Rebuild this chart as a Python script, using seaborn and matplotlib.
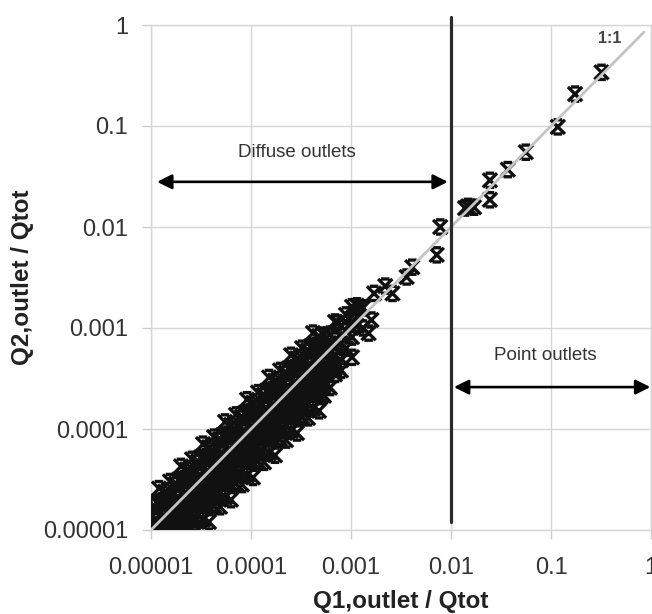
import numpy as np
import pandas as pd
import seaborn as sns
import matplotlib
matplotlib.use("Agg")
import matplotlib.pyplot as plt
from matplotlib.path import Path

# ---------------- data (log10 values) ----------------
dense_log_q1 = [
    -5.03]*6 + [-4.97]*6 + [-4.92]*6 + [-4.86]*6 + [-4.81]*6 + [-4.75]*6 + \
    [-4.70]*6 + [-4.64]*6 + [-4.59]*6 + [-4.53]*6 + [-4.48]*6 + [-4.42]*6 + \
    [-4.37]*6 + [-4.31]*6 + [-4.26]*6 + [-4.20]*6 + [-4.15]*6 + [-4.09]*6 + \
    [-4.04]*6 + [-3.98]*6 + [-3.93]*6 + [-3.87]*6 + [-3.82]*6 + [-3.76]*6 + \
    [-3.71]*6 + [-3.65]*6 + [-3.60]*6 + [-3.54]*6 + [-3.49]*6 + [-3.43]*6 + \
    [-3.38]*6 + [-3.32]*6 + [-3.27]*5 + [-3.21]*4 + [-3.16]*4 + [-3.10]*4 + \
    [-3.05]*3 + [-2.99]*4 + [-2.94]*2 + [-2.88]*2

dense_log_q2 = [
    -4.74, -4.90, -5.02, -5.14, -5.27, -5.42,
    -4.76, -4.91, -5.03, -5.14, -5.28, -5.43,
    -4.59, -4.75, -4.95, -5.06, -5.19, -5.34,
    -4.62, -4.77, -4.94, -5.06, -5.21, -5.36,
    -4.52, -4.68, -4.80, -4.92, -5.05, -5.20,
    -4.54, -4.69, -4.81, -4.92, -5.06, -5.21,
    -4.37, -4.53, -4.73, -4.84, -4.97, -5.12,
    -4.40, -4.55, -4.72, -4.84, -4.99, -5.14,
    -4.30, -4.46, -4.58, -4.70, -4.83, -4.98,
    -4.32, -4.47, -4.59, -4.70, -4.84, -4.99,
    -4.15, -4.31, -4.51, -4.62, -4.75, -4.90,
    -4.18, -4.33, -4.50, -4.62, -4.77, -4.92,
    -4.08, -4.24, -4.36, -4.48, -4.61, -4.76,
    -4.10, -4.25, -4.37, -4.48, -4.62, -4.77,
    -3.93, -4.09, -4.29, -4.40, -4.53, -4.68,
    -3.96, -4.11, -4.28, -4.40, -4.55, -4.70,
    -3.86, -4.02, -4.14, -4.26, -4.39, -4.54,
    -3.88, -4.03, -4.15, -4.26, -4.40, -4.55,
    -3.71, -3.87, -4.07, -4.18, -4.31, -4.46,
    -3.74, -3.89, -4.06, -4.18, -4.33, -4.48,
    -3.64, -3.80, -3.92, -4.04, -4.17, -4.32,
    -3.66, -3.81, -3.93, -4.04, -4.18, -4.33,
    -3.49, -3.65, -3.85, -3.96, -4.09, -4.24,
    -3.52, -3.67, -3.84, -3.96, -4.11, -4.26,
    -3.42, -3.58, -3.70, -3.82, -3.95, -4.10,
    -3.44, -3.59, -3.71, -3.82, -3.96, -4.11,
    -3.27, -3.43, -3.63, -3.74, -3.87, -4.02,
    -3.30, -3.45, -3.62, -3.74, -3.89, -4.04,
    -3.20, -3.36, -3.48, -3.60, -3.73, -3.88,
    -3.22, -3.37, -3.49, -3.60, -3.74, -3.89,
    -3.05, -3.21, -3.41, -3.52, -3.65, -3.80,
    -3.08, -3.23, -3.40, -3.52, -3.67, -3.82,
    -3.07, -3.22, -3.37, -3.52, -3.67,
    -3.06, -3.23, -3.39, -3.59,
    -2.94, -3.12, -3.28, -3.46,
    -2.98, -3.15, -3.32, -3.42,
    -2.87, -3.03, -3.20,
    -2.79, -2.94, -3.09, -3.29,
    -2.78, -2.98,
    -2.80, -3.00,
]

fill_log_q1 = [-5.00]*3 + [-4.89]*3 + [-4.78]*3 + [-4.67]*3 + [-4.56]*3 + \
    [-4.45]*3 + [-4.34]*3 + [-4.23]*3 + [-4.12]*3 + [-4.01]*3 + [-3.90]*3 + \
    [-3.79]*3 + [-3.68]*3 + [-3.57]*3 + [-3.46]*3 + [-3.35]*3 + [-3.24]*3 + \
    [-3.13]*3 + \
    [-4.94]*3 + [-4.83]*3 + [-4.72]*3 + [-4.61]*3 + [-4.50]*3 + [-4.39]*3 + \
    [-4.28]*3 + [-4.17]*3 + [-4.06]*3 + [-3.95]*3 + [-3.84]*3 + [-3.73]*3 + \
    [-3.62]*3 + [-3.51]*3 + [-3.40]*3 + [-3.29]*3
fill_log_q2 = [
    -4.94, -5.18, -5.32,  -4.71, -4.99, -5.15,  -4.72, -4.96, -5.10,
    -4.49, -4.77, -4.93,  -4.50, -4.74, -4.88,  -4.27, -4.55, -4.71,
    -4.28, -4.52, -4.66,  -4.05, -4.33, -4.49,  -4.06, -4.30, -4.44,
    -3.83, -4.11, -4.27,  -3.84, -4.08, -4.22,  -3.61, -3.89, -4.05,
    -3.62, -3.86, -4.00,  -3.39, -3.67, -3.83,  -3.40, -3.64, -3.78,
    -3.17, -3.45, -3.61,  -3.18, -3.42, -3.56,  -2.95, -3.23, -3.39,
    -4.72, -4.98, -5.16,  -4.73, -4.97, -5.19,  -4.50, -4.76, -4.94,
    -4.51, -4.75, -4.97,  -4.28, -4.54, -4.72,  -4.29, -4.53, -4.75,
    -4.06, -4.32, -4.50,  -4.07, -4.31, -4.53,  -3.84, -4.10, -4.28,
    -3.85, -4.09, -4.31,  -3.62, -3.88, -4.06,  -3.63, -3.87, -4.09,
    -3.40, -3.66, -3.84,  -3.41, -3.65, -3.87,  -3.18, -3.44, -3.62,
    -3.19, -3.43, -3.65,
]

sparse_q1 = [0.0015, 0.0016, 0.0012, 0.0011, 0.0017, 0.0022, 0.0026, 0.0036,
             0.0041, 0.0072, 0.0078, 0.0138, 0.0148, 0.017, 0.0245, 0.0245,
             0.037, 0.056, 0.117, 0.174, 0.32]
sparse_q2 = [0.00089, 0.0012, 0.0016, 0.0014, 0.0022, 0.0026, 0.0022, 0.0032,
             0.004, 0.0053, 0.01, 0.0154, 0.016, 0.0157, 0.029, 0.0186,
             0.037, 0.055, 0.098, 0.207, 0.34]

tick_values = [0.00001, 0.0001, 0.001, 0.01, 0.1, 1]
tick_labels = ["0.00001", "0.0001", "0.001", "0.01", "0.1", "1"]

one_to_one = [0.00001, 0.85]
split_value = 0.01

# ---------------- build frame ----------------
q1 = [10 ** v for v in dense_log_q1 + fill_log_q1] + sparse_q1
q2 = [10 ** v for v in dense_log_q2 + fill_log_q2] + sparse_q2
df = pd.DataFrame({"q1": q1, "q2": q2})

sns.set_theme(style="white")
plt.rcParams["font.family"] = ["Liberation Sans", "DejaVu Sans"]

fig = plt.figure(figsize=(6.52, 6.14), dpi=100)
ax = fig.add_axes([151 / 652, 84 / 614, 500 / 652, 505 / 614])

# hourglass-like star marker (X with caps)
verts = [(-1, -1), (1, 1), (-1, 1), (1, -1), (-0.6, 1), (0.6, 1), (-0.6, -1), (0.6, -1)]
codes = [Path.MOVETO, Path.LINETO] * 4
star = Path(verts, codes)

sns.scatterplot(data=df, x="q1", y="q2", ax=ax, marker=star, s=105,
                facecolor="none", edgecolor="#111111", linewidth=2.4,
                zorder=3, legend=False)

ax.set_xscale("log")
ax.set_yscale("log")
ax.set_xlim(1e-5, 1)
ax.set_ylim(1e-5, 1)

# 1:1 line
sns.lineplot(x=one_to_one, y=one_to_one, ax=ax, color="#c4c4c4", lw=2.0, zorder=4)
ax.text(0.39, 0.74, "1:1", fontsize=11.5, color="#444444", ha="center", va="center",
        fontweight="bold")

# vertical split line
ax.plot([split_value, split_value], [1.2e-5, 1.2], color="#2a2a2a", lw=2.3,
        zorder=5, clip_on=False)

# arrows
ax.annotate("", xy=(1.15e-5, 0.028), xytext=(0.0093, 0.028),
            arrowprops=dict(arrowstyle="<|-|>", color="black", lw=1.9,
                            mutation_scale=22, shrinkA=0, shrinkB=0), zorder=6)
ax.text(2.9e-4, 0.055, "Diffuse outlets", fontsize=13.5, color="#333333",
        ha="center", va="center")

ax.annotate("", xy=(0.0107, 2.6e-4), xytext=(0.985, 2.6e-4),
            arrowprops=dict(arrowstyle="<|-|>", color="black", lw=1.9,
                            mutation_scale=22, shrinkA=0, shrinkB=0),
            zorder=6, annotation_clip=False)
ax.text(0.087, 5.4e-4, "Point outlets", fontsize=13.5, color="#333333",
        ha="center", va="center")

# axes styling
ax.set_xticks(tick_values)
ax.set_xticklabels(tick_labels)
ax.set_yticks(tick_values)
ax.set_yticklabels(tick_labels)
ax.minorticks_off()
ax.grid(True, which="major", color="#d6d6d6", lw=1.0)
ax.set_axisbelow(True)
for sp in ax.spines.values():
    sp.set_visible(True)
    sp.set_color("#d6d6d6")
    sp.set_linewidth(1.0)
ax.tick_params(axis="both", which="major", length=6.5, width=1, color="#cccccc",
               labelsize=17, labelcolor="#333333", direction="out",
               bottom=True, left=True)
ax.tick_params(axis="x", pad=13)
ax.tick_params(axis="y", pad=10)

ax.set_xlabel("Q1,outlet / Qtot", fontsize=17.5, fontweight="bold", color="#222222",
              labelpad=8)
ax.set_ylabel("Q2,outlet / Qtot", fontsize=17.5, fontweight="bold", color="#222222",
              labelpad=6)

fig.savefig("out.png", dpi=100)
